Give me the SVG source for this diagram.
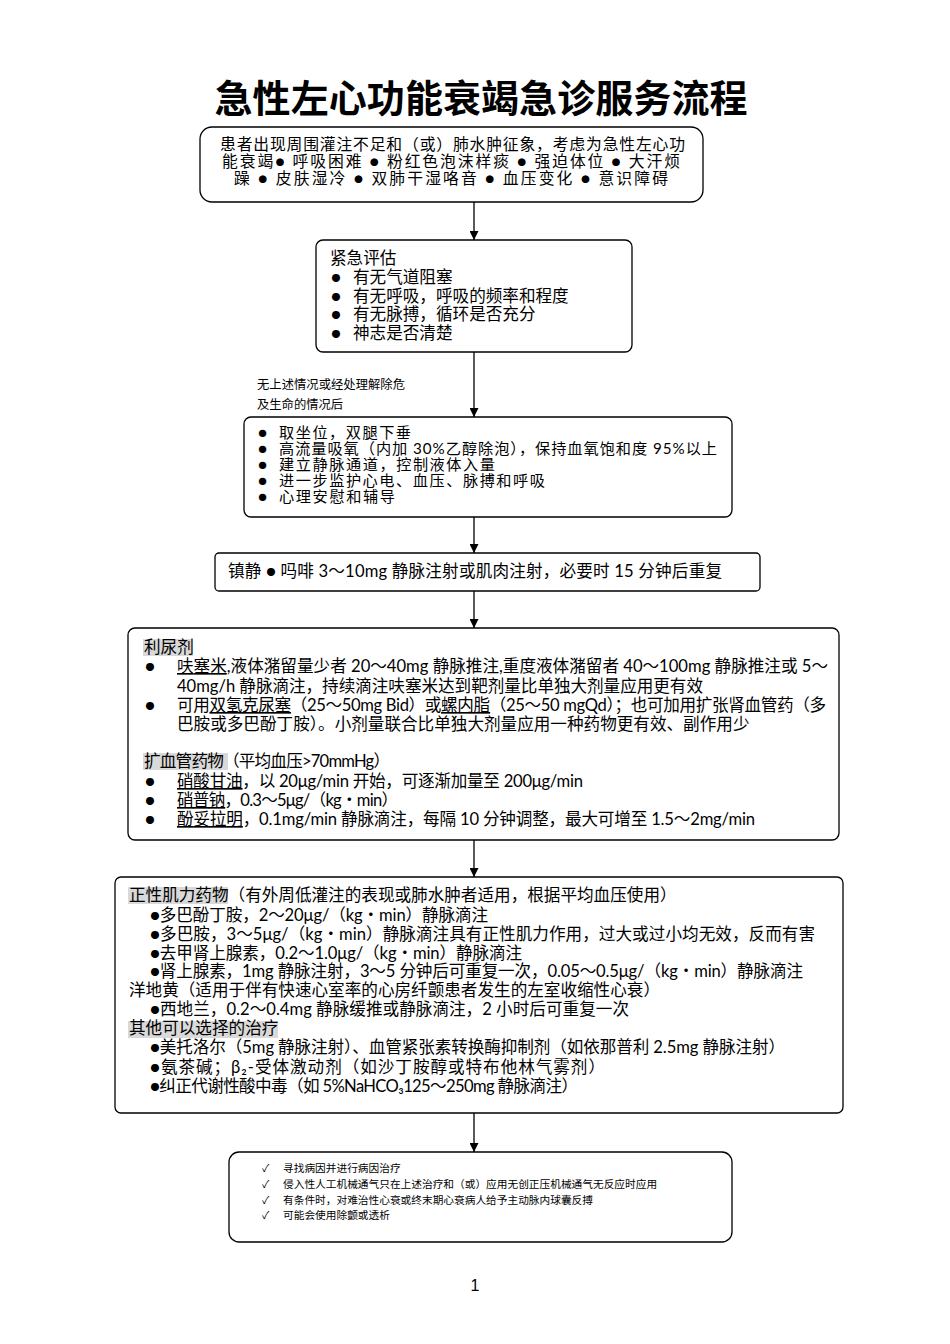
<svg xmlns="http://www.w3.org/2000/svg" width="950" height="1344" viewBox="0 0 950 1344">
<style>
.bx{fill:#fff;stroke:#000;stroke-width:1.3}
.t{font-family:"Lato","Noto Sans CJK SC",sans-serif;font-size:16.6px;fill:#000}
.t1{font-family:"Lato","Noto Sans CJK SC",sans-serif;font-size:15.8px;fill:#000}
.t3{font-family:"Lato","Noto Sans CJK SC",sans-serif;font-size:15.2px;fill:#000}
.s{font-family:"Lato","Noto Sans CJK SC",sans-serif;font-size:10.7px;fill:#000}
.lb{font-family:"Lato","Noto Sans CJK SC",sans-serif;font-size:12.3px;fill:#000}
.u{text-decoration:underline}
.hl{fill:#d9d9d9}
.cn{stroke:#000;stroke-width:1.3;fill:none}
</style>
<defs>
<marker id="ah" viewBox="0 0 10 10" refX="10" refY="5" markerWidth="9" markerHeight="9" markerUnits="userSpaceOnUse" orient="auto">
<path d="M0,0 L10,5 L0,10 z" fill="#000"/>
</marker>
</defs>
<rect width="950" height="1344" fill="#fff"/>
<text x="481" y="112" text-anchor="middle" font-family="'Noto Sans CJK SC',sans-serif" font-weight="700" font-size="38" textLength="533">急性左心功能衰竭急诊服务流程</text>

<g id="connectors">
<line class="cn" x1="474" y1="202" x2="474" y2="240" marker-end="url(#ah)"/>
<line class="cn" x1="474" y1="352" x2="474" y2="417" marker-end="url(#ah)"/>
<line class="cn" x1="474" y1="517" x2="474" y2="553" marker-end="url(#ah)"/>
<line class="cn" x1="474" y1="591" x2="474" y2="628" marker-end="url(#ah)"/>
<line class="cn" x1="474" y1="840" x2="474" y2="877" marker-end="url(#ah)"/>
<line class="cn" x1="474" y1="1113" x2="474" y2="1152" marker-end="url(#ah)"/>
<text class="lb" x="257" y="389" textLength="148">无上述情况或经处理解除危</text>
<text class="lb" x="257" y="409">及生命的情况后</text>
</g>

<g id="n1">
<rect class="bx" x="200" y="127" width="503" height="75" rx="12"/>
<text class="t1" x="220" y="150" textLength="465">患者出现周围灌注不足和（或）肺水肿征象，考虑为急性左心功</text>
<text class="t1" x="222" y="167" textLength="458">能衰竭● 呼吸困难 ● 粉红色泡沫样痰 ● 强迫体位 ● 大汗烦</text>
<text class="t1" x="234" y="184" textLength="434">躁 ● 皮肤湿冷 ● 双肺干湿咯音 ● 血压变化 ● 意识障碍</text>
</g>

<g id="n2">
<rect class="bx" x="316" y="240" width="316" height="112" rx="7"/>
<text class="t" x="330" y="264">紧急评估</text>
<text class="t" x="331" y="283">●</text><text class="t" x="353" y="283">有无气道阻塞</text>
<text class="t" x="331" y="302">●</text><text class="t" x="353" y="302">有无呼吸，呼吸的频率和程度</text>
<text class="t" x="331" y="320">●</text><text class="t" x="353" y="320">有无脉搏，循环是否充分</text>
<text class="t" x="331" y="339">●</text><text class="t" x="353" y="339">神志是否清楚</text>
</g>

<g id="n3">
<rect class="bx" x="244" y="417" width="488" height="100" rx="7"/>
<text class="t3" x="258" y="438">●</text><text class="t3" x="279" y="438" textLength="132">取坐位，双腿下垂</text>
<text class="t3" x="258" y="454">●</text><text class="t3" x="279" y="454" textLength="438">高流量吸氧（内加 30%乙醇除泡），保持血氧饱和度 95%以上</text>
<text class="t3" x="258" y="470">●</text><text class="t3" x="279" y="470" textLength="216">建立静脉通道，控制液体入量</text>
<text class="t3" x="258" y="486">●</text><text class="t3" x="279" y="486" textLength="266">进一步监护心电、血压、脉搏和呼吸</text>
<text class="t3" x="258" y="502">●</text><text class="t3" x="279" y="502" textLength="116">心理安慰和辅导</text>
</g>

<g id="n4">
<rect class="bx" x="215" y="553" width="545" height="38" rx="4"/>
<text class="t" x="228" y="577" textLength="494">镇静 ● 吗啡 3～10mg 静脉注射或肌肉注射，必要时 15 分钟后重复</text>
</g>

<g id="n5">
<rect class="bx" x="128" y="628" width="711" height="212" rx="7"/>
<rect class="hl" x="143" y="639" width="50" height="17"/>
<rect class="hl" x="143" y="753" width="85" height="17"/>
<text class="t" x="144" y="653">利尿剂</text>
<text class="t" x="145" y="672">●</text>
<text class="t" x="177" y="672" textLength="651"><tspan class="u">呋塞米</tspan>,液体潴留量少者 20～40mg 静脉推注,重度液体潴留者 40～100mg 静脉推注或 5～</text>
<text class="t" x="177" y="692" textLength="526">40mg/h 静脉滴注，持续滴注呋塞米达到靶剂量比单独大剂量应用更有效</text>
<text class="t" x="145" y="711">●</text>
<text class="t" x="177" y="711" textLength="649">可用<tspan class="u">双氢克尿塞</tspan>（25～50mg Bid）或<tspan class="u">螺内脂</tspan>（25～50 mgQd）；也可加用扩张肾血管药（多</text>
<text class="t" x="177" y="730">巴胺或多巴酚丁胺）。小剂量联合比单独大剂量应用一种药物更有效、副作用少</text>
<text class="t" x="144" y="767" textLength="246">扩血管药物（平均血压&gt;70mmHg）</text>
<text class="t" x="145" y="787">●</text>
<text class="t" x="177" y="787" textLength="406"><tspan class="u">硝酸甘油</tspan>，以 20μg/min 开始，可逐渐加量至 200μg/min</text>
<text class="t" x="145" y="806">●</text>
<text class="t" x="177" y="806" textLength="221"><tspan class="u">硝普钠</tspan>，0.3～5μg/（kg・min）</text>
<text class="t" x="145" y="825">●</text>
<text class="t" x="177" y="825" textLength="578"><tspan class="u">酚妥拉明</tspan>，0.1mg/min 静脉滴注，每隔 10 分钟调整，最大可增至 1.5～2mg/min</text>
</g>

<g id="n6">
<rect class="bx" x="115" y="877" width="728" height="236" rx="6"/>
<rect class="hl" x="128" y="887" width="100" height="17"/>
<rect class="hl" x="128" y="1021" width="150" height="17"/>
<text class="t" x="129" y="901">正性肌力药物（有外周低灌注的表现或肺水肿者适用，根据平均血压使用）</text>
<text class="t" x="150" y="921" textLength="338">●多巴酚丁胺，2～20μg/（kg・min）静脉滴注</text>
<text class="t" x="150" y="940" textLength="665">●多巴胺，3～5μg/（kg・min）静脉滴注具有正性肌力作用，过大或过小均无效，反而有害</text>
<text class="t" x="150" y="959" textLength="372">●去甲肾上腺素，0.2～1.0μg/（kg・min）静脉滴注</text>
<text class="t" x="150" y="977" textLength="653">●肾上腺素，1mg 静脉注射，3～5 分钟后可重复一次，0.05～0.5μg/（kg・min）静脉滴注</text>
<text class="t" x="129" y="996">洋地黄（适用于伴有快速心室率的心房纤颤患者发生的左室收缩性心衰）</text>
<text class="t" x="150" y="1015" textLength="479">●西地兰，0.2～0.4mg 静脉缓推或静脉滴注，2 小时后可重复一次</text>
<text class="t" x="129" y="1034">其他可以选择的治疗</text>
<text class="t" x="150" y="1053" textLength="635">●美托洛尔（5mg 静脉注射）、血管紧张素转换酶抑制剂（如依那普利 2.5mg 静脉注射）</text>
<text class="t" x="150" y="1073" textLength="455">●氨茶碱；β₂-受体激动剂（如沙丁胺醇或特布他林气雾剂）</text>
<text class="t" x="150" y="1092" textLength="428">●纠正代谢性酸中毒（如 5%NaHCO₃125～250mg 静脉滴注）</text>
</g>

<g id="n7">
<rect class="bx" x="229" y="1152" width="503" height="90" rx="10"/>
<text class="s" x="262" y="1172">✓</text><text class="s" x="283" y="1172">寻找病因并进行病因治疗</text>
<text class="s" x="262" y="1188">✓</text><text class="s" x="283" y="1188">侵入性人工机械通气只在上述治疗和（或）应用无创正压机械通气无反应时应用</text>
<text class="s" x="262" y="1204">✓</text><text class="s" x="283" y="1204">有条件时，对难治性心衰或终末期心衰病人给予主动脉内球囊反搏</text>
<text class="s" x="262" y="1219">✓</text><text class="s" x="283" y="1219">可能会使用除颤或透析</text>
</g>

<text x="475" y="1291" text-anchor="middle" font-family="'Liberation Sans',sans-serif" font-size="16">1</text>
</svg>
